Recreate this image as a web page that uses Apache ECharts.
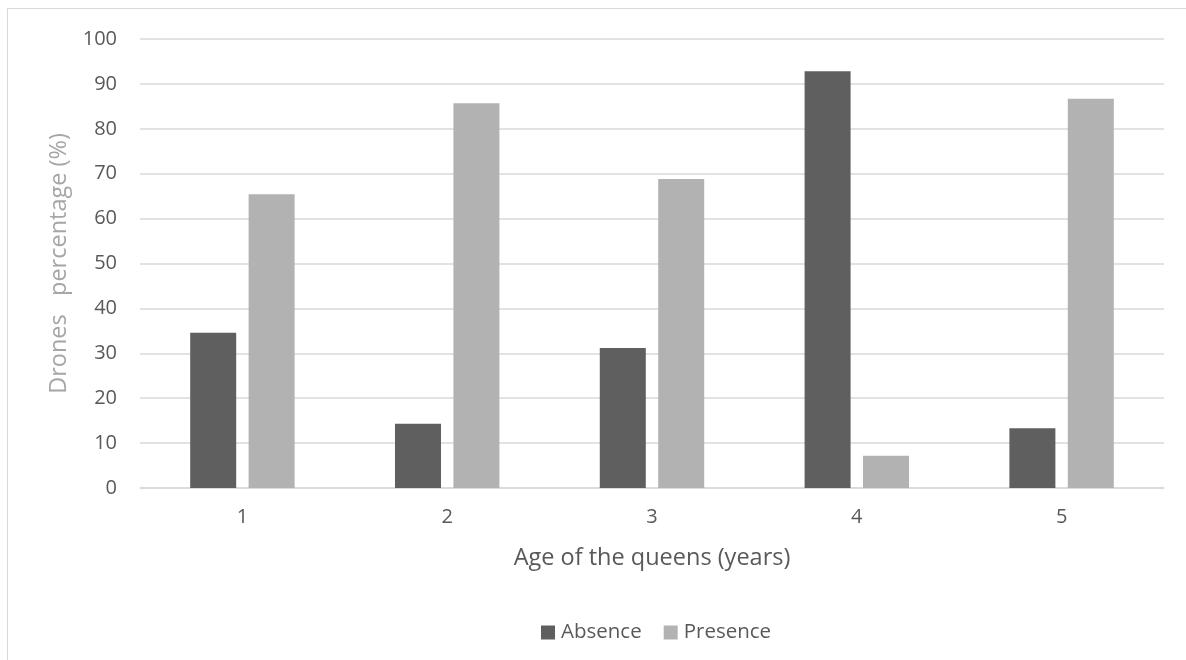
<!DOCTYPE html>
<html>
<head>
<meta charset="utf-8">
<script src="https://cdn.jsdelivr.net/npm/echarts@6/dist/echarts.min.js"></script>
<style>
  html, body { margin: 0; padding: 0; background: #fff; }
  #chart { width: 1186px; height: 660px; }
</style>
</head>
<body>
<div id="chart"></div>
<script>
// Share of drones by queen age
const categories = ['1', '2', '3', '4', '5'];
const absence = [34.6, 14.3, 31.2, 92.8, 13.3];
const presence = [65.4, 85.7, 68.8, 7.2, 86.7];
const seriesNames = ['Absence', 'Presence'];

const FONT = '"Open Sans", "DejaVu Sans", sans-serif';
const chart = echarts.init(document.getElementById('chart'), null, { renderer: 'canvas' });

chart.setOption({
  backgroundColor: '#ffffff',
  animation: false,
  graphic: [{
    type: 'rect',
    silent: true,
    shape: { x: 7.5, y: 8.5, width: 1200, height: 700 },
    style: { fill: 'none', stroke: '#d9d9d9', lineWidth: 1 }
  }],
  grid: { left: 140, right: 22, top: 39, bottom: 172, containLabel: false },
  legend: {
    data: seriesNames,
    bottom: 12,
    left: 536,
    icon: 'rect',
    itemWidth: 14,
    itemHeight: 14,
    itemGap: 22,
    textStyle: { fontFamily: FONT, fontSize: 20.5, color: '#595959', padding: [0, 0, 0, 1] }
  },
  xAxis: {
    type: 'category',
    data: categories,
    name: 'Age of the queens (years)',
    nameLocation: 'middle',
    nameGap: 58,
    nameTextStyle: { fontFamily: FONT, fontSize: 23.5, color: '#595959' },
    axisLine: { show: true, lineStyle: { color: '#d9d9d9', width: 1.5 } },
    axisTick: { show: false },
    axisLabel: { fontFamily: FONT, fontSize: 20, color: '#595959', margin: 19 }
  },
  yAxis: {
    type: 'value',
    min: 0,
    max: 100,
    interval: 10,
    name: 'Drones   percentage (%)',
    nameLocation: 'middle',
    nameGap: 69,
    nameTextStyle: { fontFamily: FONT, fontSize: 23.5, color: '#a6a6a6' },
    axisLine: { show: false },
    axisTick: { show: false },
    splitLine: { lineStyle: { color: '#d9d9d9', width: 1.5 } },
    axisLabel: { fontFamily: FONT, fontSize: 20, color: '#595959', margin: 23 }
  },
  series: [
    {
      name: seriesNames[0],
      type: 'bar',
      data: absence,
      barWidth: 46,
      barGap: '27%',
      itemStyle: { color: '#5f5f5f' }
    },
    {
      name: seriesNames[1],
      type: 'bar',
      data: presence,
      barWidth: 46,
      barGap: '27%',
      itemStyle: { color: '#b2b2b2' }
    }
  ]
});
</script>
</body>
</html>
